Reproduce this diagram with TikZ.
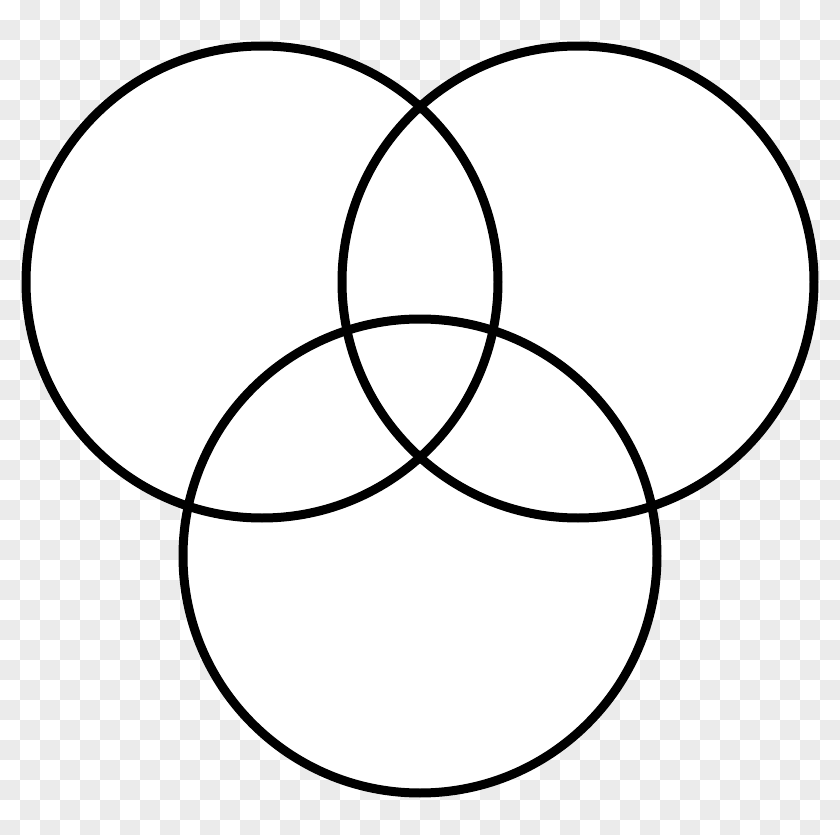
\documentclass[tikz,border=0pt]{standalone}
\usepackage{tikz}
\usetikzlibrary{calc}
\usepackage{xcolor}
\definecolor{checkgray}{RGB}{235,235,235}

\begin{document}
\begin{tikzpicture}[x=0.02cm,y=-0.02cm]

% used shapes
\tikzstyle{ring} = [draw=black, line width=0.18cm]
\tikzstyle{square} = [fill=checkgray]

\useasboundingbox (0,0) rectangle (840,835);
\clip (0,0) rectangle (840,835);

% background squares
\fill[white] (0,0) rectangle (840,835);
\foreach \j in {0,...,41} {
  \foreach \i in {0,...,20} {
    \pgfmathtruncatemacro\xx{20*(2*\i+mod(\j+1,2))}
    \fill[square] (\xx,\j*20) rectangle +(20,20);
  }
}

\coordinate (left)   at (262,282);
\coordinate (right)  at (578,282);
\coordinate (bottom) at (420,556);

\fill[white] (left) circle (236);
\fill[white] (right) circle (236);
\fill[white] (bottom) circle (237);

\draw[ring] (left) circle (236);
\draw[ring] (right) circle (236);
\draw[ring] (bottom) circle (237);

\end{tikzpicture}
\end{document}
